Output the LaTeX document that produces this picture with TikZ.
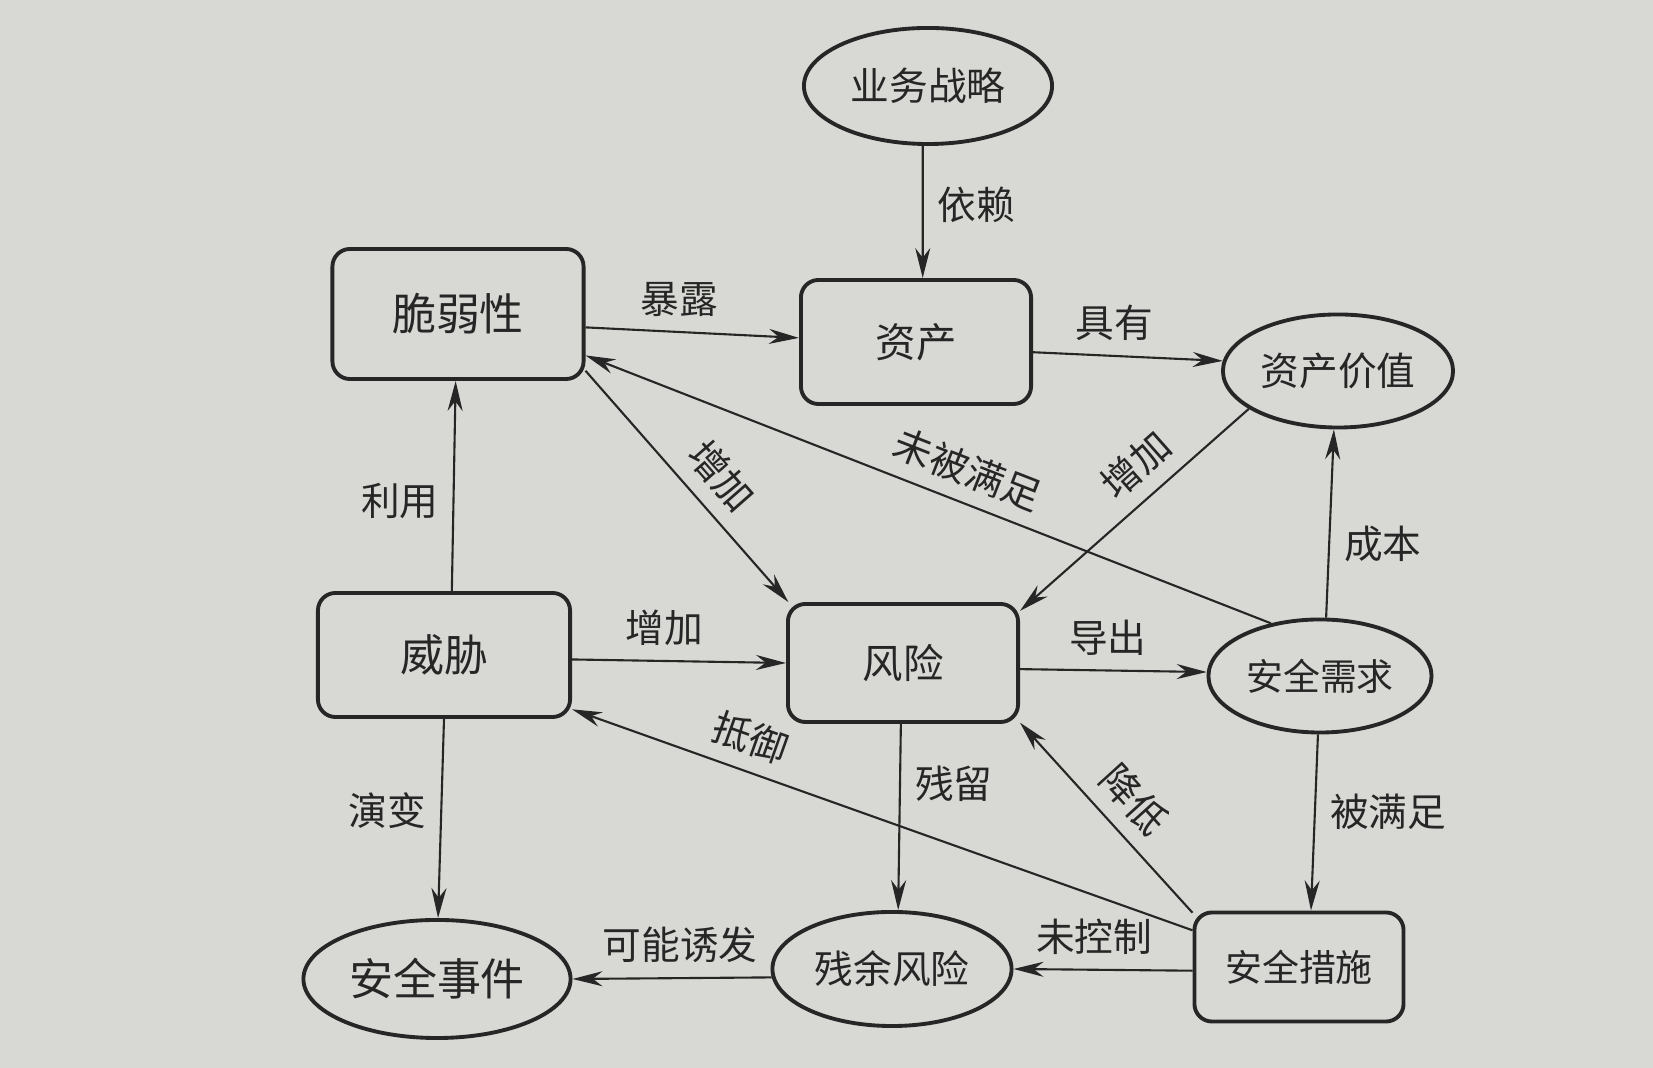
\documentclass[tikz,border=0pt]{standalone}
\usepackage{fontspec}
\usepackage{tikz}
\usepackage{xcolor}
\usetikzlibrary{shapes.geometric, arrows.meta, positioning, calc}
\newfontfamily\cjk{Noto Sans CJK SC}
\definecolor{cPaper}{RGB}{216,216,212}
\definecolor{cInk}{RGB}{38,38,38}
\tikzset{
	entbox/.style ={rectangle, rounded corners=5pt, draw=cInk, line width=1.1pt, minimum width=2.3cm, minimum height=1.2cm, align=center, text=cInk, font=\cjk\fontsize{11.5}{13}\selectfont},
	entell/.style ={ellipse, draw=cInk, line width=1.1pt, minimum width=2.3cm, minimum height=1.13cm, inner sep=1pt, align=center, text=cInk, font=\cjk\fontsize{11}{13}\selectfont},
	rel/.style    ={-{Stealth[length=3mm, width=1.5mm]}, draw=cInk, line width=0.6pt},
	lbl/.style    ={text=cInk, inner sep=4pt, font=\cjk\fontsize{11}{13}\selectfont},
}

\begin{document}
\begin{tikzpicture}[x=0.01cm, y=-0.01cm]
	% paper
	\fill[cPaper] (0,0) rectangle (1653,1068);
	\useasboundingbox (0,0) rectangle (1653,1068);
	% top row
	\node[entell, minimum width=2.48cm, minimum height=1.16cm] (strat) at (928,86) {业务战略};
	\node[entbox, minimum width=2.51cm, minimum height=1.3cm, font=\cjk\fontsize{12.5}{14}\selectfont] (vuln) at (458,314) {脆弱性};
	\node[entbox, minimum height=1.24cm] (asset) at (916,342) {资产};
	\node[entell] (value) at (1338,371) {资产价值};
	% middle row
	\node[entbox, minimum width=2.52cm, minimum height=1.24cm, font=\cjk\fontsize{12.5}{14}\selectfont] (threat) at (444,655) {威胁};
	\node[entbox, minimum height=1.18cm] (risk) at (903,663) {风险};
	\node[entell, minimum width=2.23cm, font=\cjk\fontsize{10.5}{12}\selectfont] (req) at (1320,676) {安全需求};
	% bottom row
	\node[entell, minimum width=2.67cm, minimum height=1.18cm, font=\cjk\fontsize{12.5}{14}\selectfont] (incident) at (437,979) {安全事件};
	\node[entell, minimum width=2.39cm, minimum height=1.14cm] (residual) at (892,969) {残余风险};
	\node[entbox, minimum width=2.09cm, minimum height=1.09cm, font=\cjk\fontsize{10.5}{12}\selectfont] (ctrl) at (1299,967) {安全措施};

	% relations
	\draw[rel] (strat.-95) -- node[lbl, right, pos=0.45] (lDep) {依赖} (asset.84);
	\draw[rel] (vuln.-6) -- node[lbl, above, pos=0.44] (lExp) {暴露} (asset.178);
	\draw[rel] (asset.-5) -- node[lbl, above, pos=0.43] (lHas) {具有} (value.175);
	\draw[rel] (vuln.-24) -- node[lbl, sloped, above, pos=0.55] (lIncA) {增加} (risk.152);
	\draw[rel] (value.-157) -- node[lbl, sloped, above, pos=0.40] (lIncB) {增加} (risk.24);
	\draw[rel] (req.133) -- node[lbl, sloped, above, pos=0.46] (lUnmet) {未被满足} (vuln.-18);
	\draw[rel] (threat.83) -- node[lbl, left, pos=0.43] (lUse) {利用} (vuln.-92);
	\draw[rel] (threat.-2) -- node[lbl, above, pos=0.43] (lIncC) {增加} (risk.180);
	\draw[rel] (risk.-3) -- node[lbl, above, pos=0.47] (lDer) {导出} (req.178);
	\draw[rel] (req.84) -- node[lbl, right, pos=0.39] (lCost) {成本} (value.-94);
	\draw[rel] (req.-92) -- node[lbl, right, pos=0.44] (lMet) {被满足} (ctrl.78);
	\draw[rel] (threat.-90) -- node[lbl, left, pos=0.46] (lEvo) {演变} (incident.89);
	\draw[rel] (risk.-92) -- node[lbl, right, pos=0.32] (lRem) {残留} (residual.84);
	\draw[rel] (ctrl.153) -- node[lbl, sloped, above, pos=0.48] (lRed) {降低} (risk.-27);
	\draw[rel] (ctrl.161) -- node[lbl, sloped, above, pos=0.73] (lRes) {抵御} (threat.-23);
	\draw[rel] (ctrl.182) -- node[lbl, above, pos=0.55] (lUnc) {未控制} (residual.0);
	\draw[rel] (residual.184) -- node[lbl, above, pos=0.46] (lTrig) {可能诱发} (incident.0);
\end{tikzpicture}
\end{document}
